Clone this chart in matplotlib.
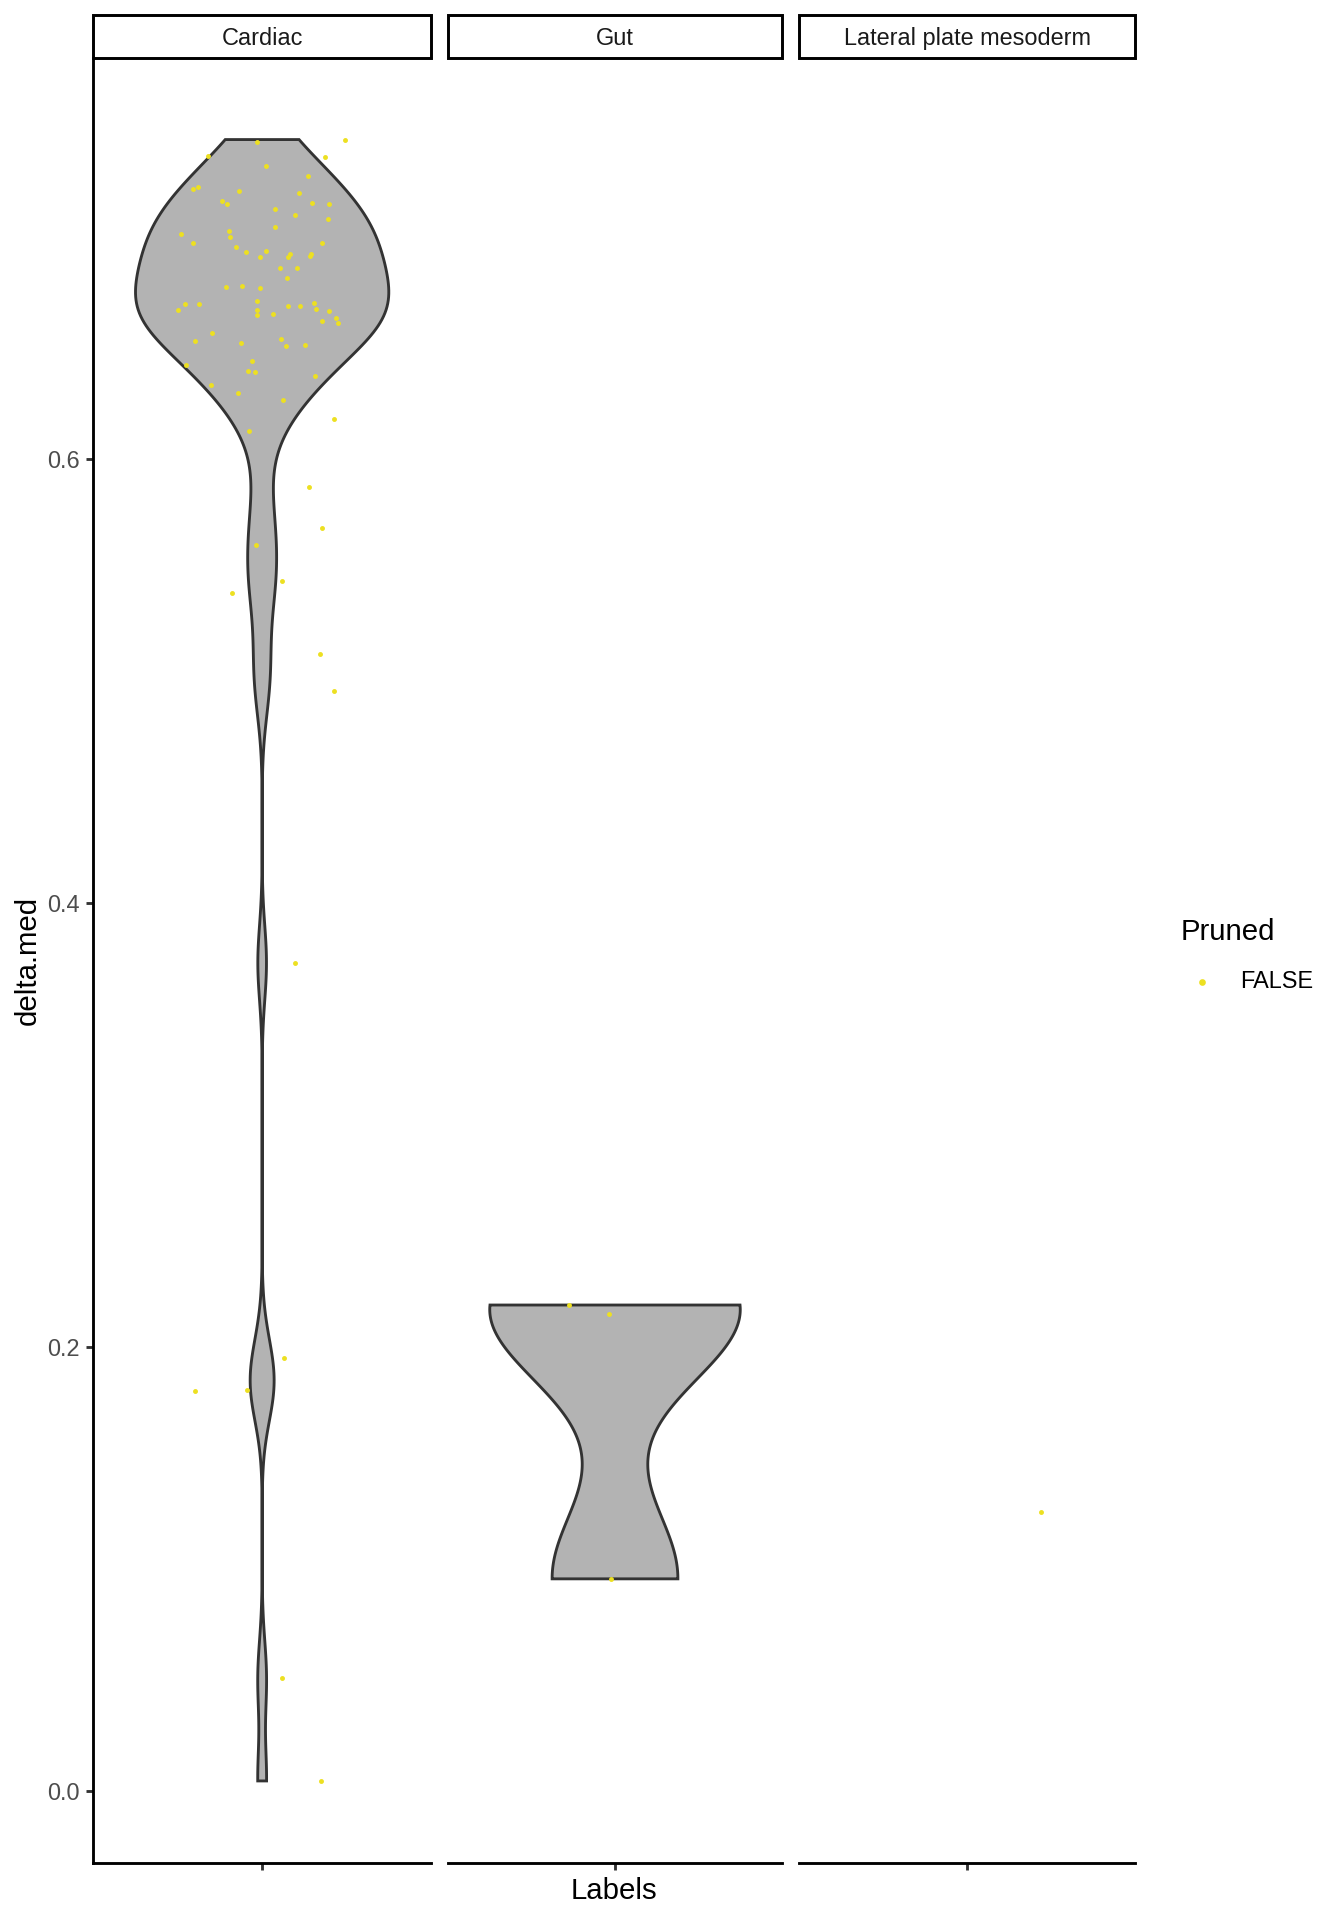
import numpy as np
import matplotlib
matplotlib.use('Agg')
import matplotlib.pyplot as plt
from matplotlib.lines import Line2D
from matplotlib.patches import Rectangle

plt.rcParams['font.family'] = ['Liberation Sans', 'DejaVu Sans']

# data
panels = ['Cardiac', 'Gut', 'Lateral plate mesoderm']

cardiac_delta = [
    0.7438, 0.7426, 0.7366, 0.7359, 0.7321, 0.7275, 0.7217, 0.7223, 0.7207, 0.7199,
    0.7162, 0.7147, 0.7153, 0.7147, 0.7126, 0.7100, 0.7082, 0.7046, 0.7013, 0.7028,
    0.7001, 0.6971, 0.6972, 0.6953, 0.6933, 0.6938, 0.6908, 0.6924, 0.6908, 0.6921,
    0.6915, 0.6858, 0.6861, 0.6815, 0.6773, 0.6780, 0.6768, 0.6710, 0.6697, 0.6696,
    0.6669, 0.6672, 0.6646, 0.6651, 0.6690, 0.6687, 0.6701, 0.6676, 0.6666, 0.6634,
    0.6610, 0.6619, 0.6567, 0.6532, 0.6520, 0.6540, 0.6509, 0.6513, 0.6421, 0.6441,
    0.6397, 0.6390, 0.6372, 0.6335, 0.6299, 0.6265, 0.6179, 0.6125, 0.5874, 0.5689,
    0.5611, 0.5450, 0.5395, 0.5123, 0.4953, 0.3731, 0.1951, 0.1805, 0.1809, 0.0511,
    0.0047,
]
cardiac_jitter = [
    0.295, -0.019, -0.192, 0.224, 0.015, 0.164, -0.245, -0.229, -0.083, 0.132,
    -0.143, -0.125, 0.176, 0.239, 0.045, 0.117, 0.233, 0.044, -0.287, -0.119,
    -0.113, -0.245, 0.213, -0.094, -0.057, 0.015, -0.007, 0.100, 0.093, 0.173,
    0.169, 0.063, 0.124, 0.087, -0.130, -0.073, -0.007, -0.019, -0.273, -0.224,
    -0.300, -0.018, -0.018, 0.037, 0.093, 0.135, 0.183, 0.193, 0.239, 0.264,
    0.270, 0.213, -0.179, -0.237, -0.076, 0.067, 0.086, 0.154, -0.270, -0.036,
    -0.050, -0.025, 0.187, -0.182, -0.086, 0.073, 0.254, -0.045, 0.168, 0.212,
    -0.023, 0.071, -0.107, 0.204, 0.255, 0.115, 0.079, -0.239, -0.054, 0.070,
    0.210,
]
gut_delta = [0.2190, 0.2150, 0.0957]
gut_jitter = [-0.165, -0.023, -0.015]
lpm_delta = [0.1256]
lpm_jitter = [0.266]

groups = [(cardiac_delta, cardiac_jitter), (gut_delta, gut_jitter), (lpm_delta, lpm_jitter)]

point_col = '#EDE021'
fill_col = '#B3B3B3'
line_col = '#333333'
lw = 1.07


def bw_nrd0(x):
    x = np.asarray(x)
    hi = np.std(x, ddof=1)
    q75, q25 = np.percentile(x, [75, 25])
    lo = min(hi, (q75 - q25) / 1.34)
    if lo == 0:
        lo = hi or abs(x[0]) or 1
    return 0.9 * lo * len(x) ** -0.2


def violin(vals):
    vals = np.asarray(vals)
    bw = bw_nrd0(vals)
    ys = np.linspace(vals.min(), vals.max(), 512)
    dens = np.exp(-0.5 * ((ys[:, None] - vals[None, :]) / bw) ** 2).sum(axis=1)
    dens = dens / (len(vals) * bw * np.sqrt(2 * np.pi))
    return ys, dens


all_vals = np.concatenate([cardiac_delta, gut_delta, lpm_delta])
rng = all_vals.max() - all_vals.min()
ylim = (all_vals.min() - 0.05 * rng, all_vals.max() + 0.05 * rng)

W, H = 1344, 1920
fig = plt.figure(figsize=(7, 10), dpi=192)

panel_x = [(93.3, 431), (448, 782), (799, 1135)]
top, bottom = 57.5, 1863
strip_top = 15

for i, (name, (vals, jit)) in enumerate(zip(panels, groups)):
    x0, x1 = panel_x[i]
    ax = fig.add_axes([x0 / W, 1 - bottom / H, (x1 - x0) / W, (bottom - top) / H])
    ax.set_xlim(0.4, 1.6)
    ax.set_ylim(*ylim)

    if len(vals) > 1:
        ys, dens = violin(vals)
        half = 0.45 * dens / dens.max()
        xs = np.concatenate([1 - half, (1 + half)[::-1]])
        yy = np.concatenate([ys, ys[::-1]])
        ax.fill(xs, yy, facecolor=fill_col, edgecolor=line_col, linewidth=lw, zorder=2)

    ax.scatter(1 + np.asarray(jit), vals, s=3.4, color=point_col, linewidths=0, zorder=3)

    for s in ['top', 'right']:
        ax.spines[s].set_visible(False)
    ax.spines['bottom'].set_linewidth(lw)
    ax.spines['left'].set_linewidth(lw)
    ax.set_xticks([1])
    ax.set_xticklabels([''])
    ax.tick_params(axis='both', length=2.75, width=lw, color=line_col,
                   labelsize=8.8, labelcolor='#4D4D4D', pad=2.2)
    if i == 0:
        ax.set_yticks([0.0, 0.2, 0.4, 0.6])
        ax.set_yticklabels(['0.0', '0.2', '0.4', '0.6'])
    else:
        ax.spines['left'].set_visible(False)
        ax.set_yticks([])

    # facet strip
    strip = Rectangle((x0 / W, 1 - top / H), (x1 - x0) / W, (top - strip_top) / H,
                      transform=fig.transFigure, facecolor='white',
                      edgecolor='black', linewidth=1.1)
    fig.add_artist(strip)
    fig.text((x0 + x1) / 2 / W, 1 - ((top + strip_top) / 2 + 2.5) / H, name,
             ha='center', va='center', fontsize=8.8, color='#1A1A1A')

fig.text(28 / W, 1 - (top + bottom) / 2 / H, 'delta.med', rotation=90,
         ha='center', va='center', fontsize=11)
fig.text((93.3 + 1135) / 2 / W, 1 - 1891 / H, 'Labels',
         ha='center', va='center', fontsize=11)

# legend
fig.text(1180.5 / W, 1 - 932 / H, 'Pruned', ha='left', va='center', fontsize=11)
fig.add_artist(Line2D([1202.3 / W], [1 - 982 / H], transform=fig.transFigure,
                      marker='o', markersize=1.5, color=point_col, linestyle='none'))
fig.text(1240.5 / W, 1 - 982 / H, 'FALSE', ha='left', va='center', fontsize=8.8)

fig.savefig('out.png', dpi=192)
